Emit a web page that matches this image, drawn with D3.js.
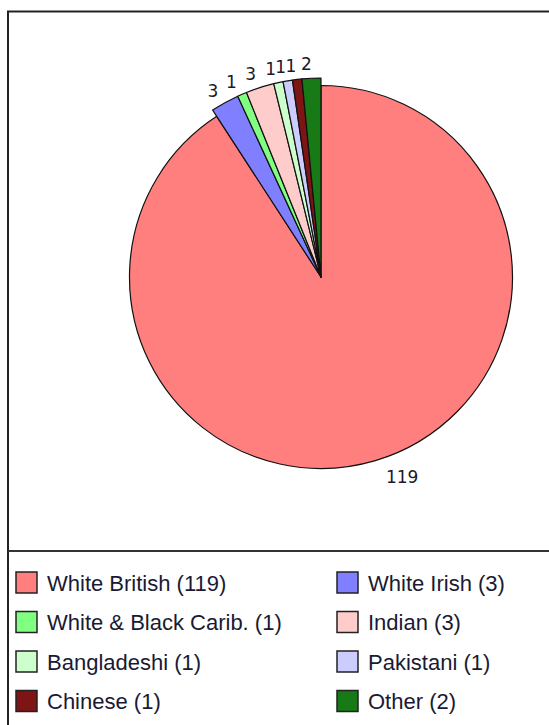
<!DOCTYPE html>
<html>
<head>
<meta charset="utf-8">
<script src="https://cdn.jsdelivr.net/npm/d3@7"></script>
<style>
  html, body { margin: 0; padding: 0; background: #fff; }
  svg { display: block; }
</style>
</head>
<body>
<div id="chart"></div>
<script>
// data
const categories = ["White British", "White Irish", "White & Black Carib.", "Indian", "Bangladeshi", "Pakistani", "Chinese", "Other"]
const counts = [119, 3, 1, 3, 1, 1, 1, 2]
const colors = ["#ff7f7f", "#7f7fff", "#80ff80", "#ffcccc", "#ccffcc", "#ccccff", "#7f1414", "#177a17"]

const width = 549
const height = 725
const cx = 321, cy = 277
const radius = 191.5
const bigSlice = 119 // slices smaller than this get drawn a bit larger

const data = categories.map((c, i) => ({ name: c, value: counts[i], color: colors[i] }))

const svg = d3.select("#chart")
  .append("svg")
  .attr("width", width)
  .attr("height", height)
  .attr("viewBox", [0, 0, width, height])

// frame + divider
svg.append("rect")
  .attr("x", 8).attr("y", 11.5)
  .attr("width", width + 10).attr("height", height + 10)
  .attr("fill", "none")
  .attr("stroke", "#222")
  .attr("stroke-width", 2)
svg.append("line")
  .attr("x1", 8).attr("x2", width)
  .attr("y1", 551).attr("y2", 551)
  .attr("stroke", "#333")
  .attr("stroke-width", 2)

const pie = d3.pie().value(d => d.value).sort(null)
const arcs = pie(data)

const outerR = d => d.data.value >= bigSlice ? radius : radius + 7.5
const arc = d3.arc().innerRadius(0).outerRadius(d => outerR(d))

const g = svg.append("g").attr("transform", `translate(${cx},${cy})`)

g.selectAll("path")
  .data(arcs)
  .join("path")
  .attr("d", arc)
  .attr("fill", d => d.data.color)
  .attr("stroke", "#111")
  .attr("stroke-width", 1.2)
  .attr("stroke-linejoin", "round")

// slice labels
g.selectAll("text")
  .data(arcs)
  .join("text")
  .each(function (d) {
    const mid = (d.startAngle + d.endAngle) / 2
    const r = outerR(d) + 16
    const x = Math.sin(mid) * r
    const y = -Math.cos(mid) * r
    const right = Math.sin(mid) > 0
    d3.select(this)
      .attr("x", right ? x + 6 : x + 1)
      .attr("y", right ? y + 1 : y + 2)
      .attr("text-anchor", right ? "start" : "end")
  })
  .attr("dominant-baseline", "central")
  .attr("font-family", "DejaVu Sans, Verdana, sans-serif")
  .attr("font-size", 17)
  .attr("fill", "#1a1a2a")
  .text(d => d.data.value)

// legend
const legendX = [16, 337]
const legendY0 = 582, legendStep = 39.5
const legend = svg.append("g")
  .attr("font-family", "Liberation Sans, Arial, sans-serif")
  .attr("font-size", 22)

const item = legend.selectAll("g")
  .data(data)
  .join("g")
  .attr("transform", (d, i) => `translate(${legendX[i % 2]},${legendY0 + Math.floor(i / 2) * legendStep})`)

item.append("rect")
  .attr("x", 0).attr("y", -10)
  .attr("width", 21).attr("height", 21)
  .attr("fill", d => d.color)
  .attr("stroke", "#222")
  .attr("stroke-width", 1.5)

item.append("text")
  .attr("x", 31).attr("y", 1)
  .attr("dominant-baseline", "central")
  .attr("fill", "#1a1a33")
  .text(d => `${d.name} (${d.value})`)
</script>
</body>
</html>
